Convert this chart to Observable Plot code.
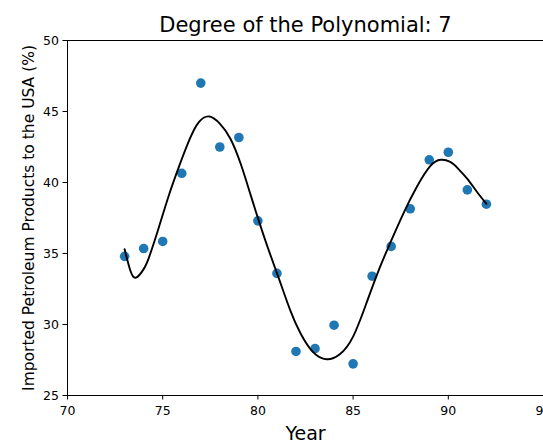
<!DOCTYPE html>
<html><head><meta charset="utf-8">
<script src="https://cdn.jsdelivr.net/npm/d3@7"></script>
<script src="https://cdn.jsdelivr.net/npm/@observablehq/plot@0.6"></script>
<style>body{margin:0;background:#fff;}</style>
</head><body><div id="chart"></div>
<script>
const titleText = "Degree of the Polynomial: 7";
const xLabel = "Year";
const yLabel = "Imported Petroleum Products to the USA (%)";

const years = [73,74,75,76,77,78,79,80,81,82,83,84,85,86,87,88,89,90,91,92];
const imports = [34.8,35.35,35.85,40.65,47.0,42.5,43.17,37.3,33.6,28.1,28.3,29.95,27.23,33.4,35.5,38.15,41.6,42.13,39.48,38.47];

// fitted curve
const fitYears = [73.0,73.3,73.6,74.0,74.3,74.8,75.3,75.85,76.4,76.9,77.45,78.0,78.55,79.1,79.6,80.05,80.55,81.1,81.7,82.25,82.9,83.6,84.3,85.0,85.7,86.4,87.0,87.65,88.35,89.05,89.6,90.1,90.5,91.0,91.5,92.0];
const fitValues = [35.3,33.8,33.3,33.9,34.8,36.85,39.0,41.1,43.0,44.25,44.65,44.15,43.1,41.3,39.2,37.3,35.3,33.25,31.0,29.35,28.05,27.55,27.9,29.15,31.5,34.0,35.9,37.85,39.7,41.15,41.6,41.45,41.0,40.25,39.35,38.5];

const xTicks = [70,75,80,85,90,95];
const yTicks = [25,30,35,40,45,50];

const points = years.map((y, i) => ({year: y, value: imports[i]}));
const fit = fitYears.map((y, i) => ({year: y, value: fitValues[i]}));

const font = "DejaVu Sans";

const chart = Plot.plot({
  width: 543,
  height: 442,
  marginTop: 40,
  marginBottom: 47,
  marginLeft: 67,
  marginRight: 0,
  style: {fontFamily: font, fontSize: "12.5px", color: "#000", background: "#fff"},
  x: {domain: [70, 95], label: null},
  y: {domain: [25, 50], label: null},
  marks: [
    Plot.axisX({ticks: xTicks, tickFormat: d => String(d), tickSize: 4.5, tickPadding: 6.5, label: null, fontSize: 12.5}),
    Plot.axisY({ticks: yTicks, tickFormat: d => String(d), tickSize: 4.5, tickPadding: 4, label: null, fontSize: 12.5}),
    Plot.ruleY([25, 50], {stroke: "#000", strokeWidth: 1}),
    Plot.ruleX([70], {stroke: "#000", strokeWidth: 1}),
    Plot.dot(points, {x: "year", y: "value", r: 4.8, fill: "#1f77b4", stroke: "none"}),
    Plot.line(fit, {x: "year", y: "value", stroke: "#000", strokeWidth: 1.9, curve: "natural"}),
    Plot.text([titleText], {frameAnchor: "top", lineAnchor: "bottom", dy: -9, fontSize: 21, fill: "#000"}),
    Plot.text([xLabel], {frameAnchor: "bottom", lineAnchor: "bottom", dy: 44, fontSize: 19, fill: "#000"}),
    Plot.text([yLabel], {frameAnchor: "left", textAnchor: "middle", lineAnchor: "bottom", rotate: -90, dx: -34, fontSize: 15.5, fill: "#000"})
  ]
});
document.getElementById("chart").appendChild(chart);
</script>
</body></html>
